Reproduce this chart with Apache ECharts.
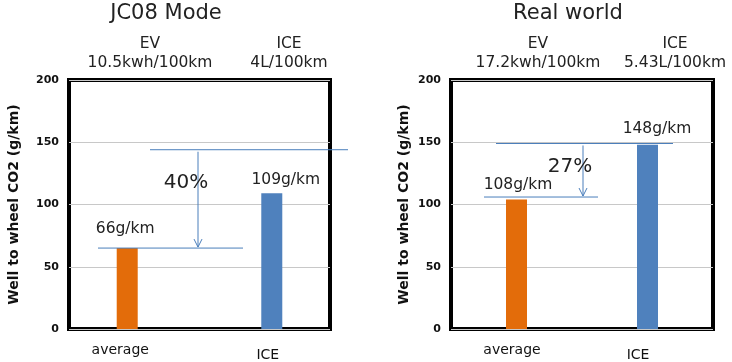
<!DOCTYPE html>
<html><head><meta charset="utf-8">
<script src="https://cdn.jsdelivr.net/npm/echarts@6/dist/echarts.min.js"></script>
<style>html,body{margin:0;padding:0;background:#fff}#c{width:732px;height:362px}</style>
</head><body><div id="c"></div>
<script>
// ---- data ----
const categories = ['average', 'ICE'];
const panelTitles = ['JC08 Mode', 'Real world'];
const evHeaders = [['EV', '10.5kwh/100km'], ['EV', '17.2kwh/100km']];
const iceHeaders = [['ICE', '4L/100km'], ['ICE', '5.43L/100km']];
const evValues = [65, 104];
const iceValues = [109, 148];
const evLabels = ['66g/km', '108g/km'];
const iceLabels = ['109g/km', '148g/km'];
const refTopValues = [144, 149];
const refBottomValues = [65, 106];
const reductionLabels = ['40%', '27%'];
const yMin = 0, yMax = 200, yStep = 50;
const yName = 'Well to wheel CO2 (g/km)';

// ---- layout / style ----
const FONT = 'DejaVu Sans';
const ORANGE = '#e36c0a', BLUE = '#4f81bd', ANN = '#4a7ebb';
const grids = [
  { left: 69, top: 80, width: 261, height: 250 },
  { left: 451, top: 80, width: 262, height: 250 }
];
const barGaps = ['-33%', '-100%'];
const nameGaps = [48, 40];
const catShift = [[-14, 3], [-4.5, -9.5]];
const catDrop = [0, 5];
const evLabelOffset = [[-2, -11], [1.5, -6.5]];
const iceLabelOffset = [[14, -5], [9.5, -7.5]];
const titlePos = [[166, 14], [568, 14]];
const evHeadX = [150, 538], iceHeadX = [289, 675];
const headY = [44, 63];
const topLineX = [[150, 348], [496, 673]];
const botLineX = [[98, 243], [484, 598]];
const arrowX = [198, 583];
const pctPos = [[186, 183], [570, 167]];

const chart = echarts.init(document.getElementById('c'));

const catData = (i) => categories.map((c, k) => {
  const s = catShift[i][k];
  return { value: c, textStyle: { padding: [catDrop[k], s < 0 ? -2 * s : 0, 0, s > 0 ? 2 * s : 0] } };
});

const option = {
  animation: false,
  textStyle: { fontFamily: FONT },
  grid: grids.map(g => Object.assign({ show: true, borderColor: '#000', borderWidth: 4, backgroundColor: 'transparent' }, g)),
  xAxis: grids.map((g, i) => ({
    type: 'category', gridIndex: i, data: catData(i),
    axisLine: { show: false }, axisTick: { show: false },
    axisLabel: { fontFamily: FONT, fontSize: 14, color: '#111', margin: 14 }
  })),
  yAxis: grids.map((g, i) => ({
    type: 'value', gridIndex: i, min: yMin, max: yMax, interval: yStep,
    axisLine: { show: false }, axisTick: { show: false },
    axisLabel: { fontFamily: FONT, fontSize: 11, fontWeight: 'bold', color: '#111', margin: 10 },
    splitLine: { lineStyle: { color: '#c8c8c8', width: 1 } },
    name: yName, nameLocation: 'middle', nameGap: nameGaps[i],
    nameTextStyle: { fontFamily: FONT, fontSize: 14, fontWeight: 'bold', color: '#111' }
  })),
  series: []
};
const lblStyle = { show: true, position: 'top', distance: 0, fontFamily: FONT, fontSize: 15.5, color: '#222' };
grids.forEach((g, i) => {
  option.series.push({
    type: 'bar', xAxisIndex: i, yAxisIndex: i, barWidth: 21, barGap: barGaps[i],
    itemStyle: { color: ORANGE },
    data: [{ value: evValues[i], label: Object.assign({ offset: evLabelOffset[i], formatter: evLabels[i] }, lblStyle) }, '-']
  });
  option.series.push({
    type: 'bar', xAxisIndex: i, yAxisIndex: i, barWidth: 21, barGap: barGaps[i],
    itemStyle: { color: BLUE },
    data: ['-', { value: iceValues[i], label: Object.assign({ offset: iceLabelOffset[i], formatter: iceLabels[i] }, lblStyle) }]
  });
});
chart.setOption(option);

const yPx = (i, v) => chart.convertToPixel({ yAxisIndex: i }, v);
const graphic = [];
const txt = (x, y, text, size) => ({
  type: 'text', z: 10, style: { x, y, text, fill: '#222', font: size + 'px "' + FONT + '"', textAlign: 'center', textVerticalAlign: 'middle' }
});
const line = (x1, y1, x2, y2) => ({
  type: 'line', z: 10, shape: { x1, y1, x2, y2 }, style: { stroke: ANN, lineWidth: 1 }
});
grids.forEach((g, i) => {
  graphic.push(txt(titlePos[i][0], titlePos[i][1], panelTitles[i], 21));
  graphic.push(txt(evHeadX[i], headY[0], evHeaders[i][0], 15.5));
  graphic.push(txt(evHeadX[i], headY[1], evHeaders[i][1], 15.5));
  graphic.push(txt(iceHeadX[i], headY[0], iceHeaders[i][0], 15.5));
  graphic.push(txt(iceHeadX[i], headY[1], iceHeaders[i][1], 15.5));
  const yt = yPx(i, refTopValues[i]);
  const yb = yPx(i, refBottomValues[i]);
  graphic.push(line(topLineX[i][0], yt, topLineX[i][1], yt));
  graphic.push(line(botLineX[i][0], yb, botLineX[i][1], yb));
  const ax = arrowX[i];
  graphic.push(line(ax, yt + 2, ax, yb - 1));
  graphic.push({ type: 'polyline', z: 10, shape: { points: [[ax - 4, yb - 9], [ax, yb - 1], [ax + 4, yb - 9]] }, style: { stroke: ANN, lineWidth: 1, fill: null } });
  graphic.push(txt(pctPos[i][0], pctPos[i][1], reductionLabels[i], 20));
});
chart.setOption({ graphic });
</script>
</body></html>
